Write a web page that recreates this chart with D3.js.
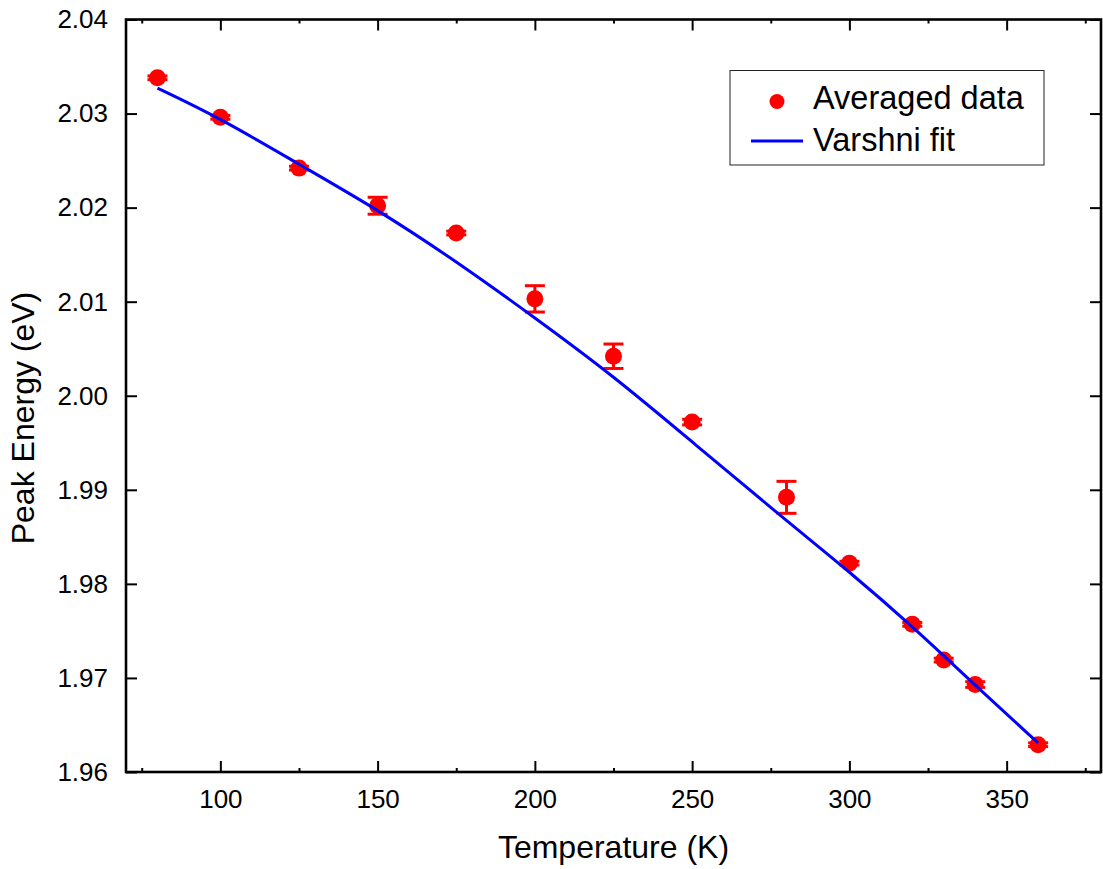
<!DOCTYPE html>
<html>
<head>
<meta charset="utf-8">
<script src="https://cdn.jsdelivr.net/npm/d3@7"></script>
<style>
  html, body { margin: 0; padding: 0; background: #fff; }
  svg { display: block; font-family: "Liberation Sans", Arial, sans-serif; }
</style>
</head>
<body>
<svg id="chart" width="1103" height="869"></svg>
<script>
// Averaged peak energies with their uncertainties
const temperatures = [80, 100, 125, 150, 175, 200, 225, 250, 280, 300, 320, 330, 340, 360];
const peakEnergy   = [2.0338, 2.0296, 2.0242, 2.0202, 2.0173, 2.0103, 2.0042, 1.9972, 1.9892, 1.9822, 1.9757, 1.9719, 1.9693, 1.9629];
const energyError  = [0.0002, 0.0002, 0.0002, 0.0009, 0.0002, 0.0014, 0.0013, 0.0003, 0.0017, 0.0002, 0.0002, 0.0002, 0.0003, 0.0002];

// Varshni fit curve samples
const fitTemperature = [80, 100, 125, 150, 175, 200, 225, 250, 280, 300, 320, 340, 360];
const fitEnergy      = [2.0327, 2.0295, 2.0246, 2.0198, 2.0143, 2.0083, 2.0021, 1.9951, 1.9867, 1.9813, 1.9755, 1.9692, 1.9631];

const xTicks = [100, 150, 200, 250, 300, 350];
const xMinorTicks = [75, 125, 175, 225, 275, 325, 375];
const yTicks = [1.96, 1.97, 1.98, 1.99, 2.00, 2.01, 2.02, 2.03, 2.04];

const legendLabels = ["Averaged data", "Varshni fit"];
const xTitle = "Temperature (K)";
const yTitle = "Peak Energy (eV)";

const svg = d3.select("#chart");
const margin = { left: 126, right: 2, top: 19.5, bottom: 97 };
const W = 1103, H = 869;
const x0 = margin.left, x1 = W - margin.right;
const y0 = H - margin.bottom, y1 = margin.top;

const x = d3.scaleLinear().domain([70, 380]).range([x0, x1]);
const y = d3.scaleLinear().domain([1.96, 2.04]).range([y0, y1]);

const red = "#ff0000", blue = "#0000ff";

// Axes with inward ticks on all four sides
const tickLen = 11, minorLen = 4;
const axes = svg.append("g").attr("class", "axes");

function styleAxis(g) {
  g.select(".domain").remove();
  g.selectAll(".tick line").attr("stroke", "#000").attr("stroke-width", 2);
}

axes.append("g")
  .attr("transform", `translate(0,${y0})`)
  .call(d3.axisBottom(x).tickValues(xTicks).tickSize(-tickLen).tickPadding(18).tickFormat(d3.format("d")))
  .call(styleAxis)
  .call(g => g.selectAll("text").attr("font-size", 26).attr("fill", "#000").attr("dy", "0.71em"));

axes.append("g")
  .attr("transform", `translate(0,${y0})`)
  .call(d3.axisBottom(x).tickValues(xMinorTicks).tickSize(-minorLen).tickFormat(""))
  .call(styleAxis);

axes.append("g")
  .attr("transform", `translate(0,${y1})`)
  .call(d3.axisTop(x).tickValues(xTicks).tickSize(-tickLen).tickFormat(""))
  .call(styleAxis);

axes.append("g")
  .attr("transform", `translate(0,${y1})`)
  .call(d3.axisTop(x).tickValues(xMinorTicks).tickSize(-minorLen).tickFormat(""))
  .call(styleAxis);

axes.append("g")
  .attr("transform", `translate(${x0},0)`)
  .call(d3.axisLeft(y).tickValues(yTicks).tickSize(-tickLen).tickPadding(18).tickFormat(d3.format(".2f")))
  .call(styleAxis)
  .call(g => g.selectAll("text").attr("font-size", 26).attr("fill", "#000"));

axes.append("g")
  .attr("transform", `translate(${x1},0)`)
  .call(d3.axisRight(y).tickValues(yTicks).tickSize(-tickLen).tickFormat(""))
  .call(styleAxis);

// Frame
svg.append("rect")
  .attr("x", x0).attr("y", y1)
  .attr("width", x1 - x0).attr("height", y0 - y1)
  .attr("fill", "none").attr("stroke", "#000").attr("stroke-width", 2.6);

// Axis titles
svg.append("text")
  .attr("x", (x0 + x1) / 2).attr("y", 858)
  .attr("text-anchor", "middle").attr("font-size", 32).attr("fill", "#000")
  .text(xTitle);

svg.append("text")
  .attr("transform", `translate(34,418) rotate(-90)`)
  .attr("text-anchor", "middle").attr("font-size", 32).attr("fill", "#000")
  .text(yTitle);

// Data points with error bars
const points = temperatures.map((t, i) => ({ t, e: peakEnergy[i], err: energyError[i] }));
const capHalf = 10;
const bars = svg.append("g").attr("stroke", red).attr("stroke-width", 3);
points.forEach(p => {
  const cx = x(p.t), top = y(p.e + p.err), bot = y(p.e - p.err);
  bars.append("line").attr("x1", cx).attr("x2", cx).attr("y1", top).attr("y2", bot);
  bars.append("line").attr("x1", cx - capHalf).attr("x2", cx + capHalf).attr("y1", top).attr("y2", top);
  bars.append("line").attr("x1", cx - capHalf).attr("x2", cx + capHalf).attr("y1", bot).attr("y2", bot);
});

svg.append("g").selectAll("circle")
  .data(points).join("circle")
  .attr("cx", d => x(d.t)).attr("cy", d => y(d.e))
  .attr("r", 8.5).attr("fill", red);

// Fit curve, smoothed through the samples
const fit = fitTemperature.map((t, i) => [t, fitEnergy[i]]);
svg.append("path")
  .datum(fit)
  .attr("fill", "none").attr("stroke", blue).attr("stroke-width", 3)
  .attr("d", d3.line().x(d => x(d[0])).y(d => y(d[1])).curve(d3.curveBasis));

// Legend
const lg = svg.append("g");
lg.append("rect")
  .attr("x", 730).attr("y", 70.5).attr("width", 314).attr("height", 94.5)
  .attr("fill", "#fff").attr("stroke", "#222").attr("stroke-width", 1);
lg.append("circle").attr("cx", 777).attr("cy", 101.5).attr("r", 7.5).attr("fill", red);
lg.append("line").attr("x1", 751).attr("x2", 803).attr("y1", 141).attr("y2", 141)
  .attr("stroke", blue).attr("stroke-width", 3);
lg.append("text").attr("x", 813).attr("y", 109).attr("font-size", 32.5).attr("fill", "#000").text(legendLabels[0]);
lg.append("text").attr("x", 813).attr("y", 150.5).attr("font-size", 32.5).attr("fill", "#000").text(legendLabels[1]);
</script>
</body>
</html>
